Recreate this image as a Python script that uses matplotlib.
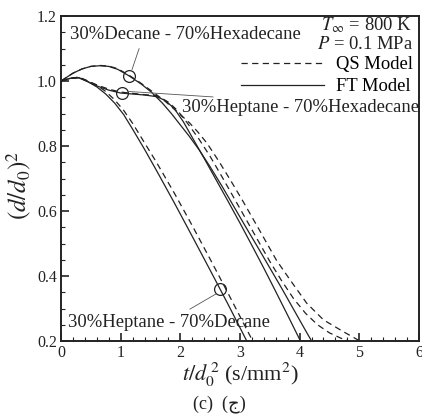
import numpy as np
import matplotlib.pyplot as plt
from matplotlib.lines import Line2D

plt.rcParams['font.family'] = ['Liberation Serif', 'DejaVu Sans']
plt.rcParams['mathtext.fontset'] = 'stix'

# 30%Heptane - 70%Decane
hd_ft_t = [0, 0.15, 0.3, 0.45, 0.6, 0.75, 0.9, 1.05, 1.2, 1.4, 1.6, 1.9, 2.2, 2.5, 2.8, 3.1, 3.3]
hd_ft_v = [1.0, 1.008, 1.01, 0.998, 0.982, 0.96, 0.932, 0.897, 0.852, 0.79, 0.725, 0.625, 0.522, 0.418, 0.313, 0.205, 0.135]
hd_qs_t = [0, 0.15, 0.3, 0.45, 0.6, 0.75, 0.9, 1.05, 1.2, 1.4, 1.6, 1.9, 2.2, 2.5, 2.8, 3.1, 3.3]
hd_qs_v = [1.0, 1.008, 1.012, 1.0, 0.987, 0.968, 0.942, 0.91, 0.87, 0.81, 0.75, 0.655, 0.555, 0.452, 0.347, 0.24, 0.17]

# 30%Heptane - 70%Hexadecane
hh_ft_t = [0, 0.15, 0.3, 0.45, 0.6, 0.8, 1.0, 1.2, 1.4, 1.6, 1.75, 1.9, 2.05, 2.22, 2.4, 2.6, 2.8, 3.0, 3.2, 3.4, 3.6, 3.8, 4.0, 4.2]
hh_ft_v = [1.0, 1.008, 1.01, 0.998, 0.985, 0.972, 0.963, 0.96, 0.957, 0.952, 0.94, 0.915, 0.875, 0.82, 0.762, 0.696, 0.63, 0.563, 0.494, 0.424, 0.352, 0.279, 0.205, 0.13]
hh_qs_t = [0, 0.15, 0.3, 0.45, 0.6, 0.8, 1.0, 1.2, 1.4, 1.6, 1.8, 1.95, 2.1, 2.3, 2.5, 2.7, 2.9, 3.1, 3.3, 3.5, 3.7, 3.9, 4.1, 4.3, 4.5, 4.7, 4.85, 5.0]
hh_qs_v = [1.0, 1.008, 1.012, 1.0, 0.988, 0.975, 0.966, 0.962, 0.958, 0.955, 0.935, 0.91, 0.875, 0.825, 0.768, 0.705, 0.64, 0.575, 0.51, 0.445, 0.385, 0.33, 0.285, 0.25, 0.225, 0.208, 0.198, 0.19]

# 30%Decane - 70%Hexadecane
dh_ft_t = [0, 0.1, 0.2, 0.35, 0.5, 0.65, 0.8, 0.95, 1.14, 1.35, 1.52, 1.7, 1.85, 2.0, 2.15, 2.32, 2.5, 2.7, 2.9, 3.1, 3.3, 3.5, 3.7, 3.9, 4.1, 4.2, 4.4]
dh_ft_v = [1.0, 1.012, 1.024, 1.037, 1.045, 1.047, 1.045, 1.036, 1.016, 0.99, 0.965, 0.932, 0.9, 0.865, 0.83, 0.787, 0.736, 0.676, 0.613, 0.55, 0.488, 0.425, 0.362, 0.297, 0.232, 0.2, 0.135]
dh_qs_t = [0, 0.1, 0.2, 0.35, 0.5, 0.65, 0.8, 0.95, 1.14, 1.35, 1.55, 1.75, 1.95, 2.15, 2.3, 2.45, 2.65, 2.85, 3.05, 3.33, 3.61, 3.84, 4.12, 4.4, 4.73, 5.01, 5.2]
dh_qs_v = [1.0, 1.012, 1.024, 1.037, 1.045, 1.048, 1.046, 1.038, 1.018, 0.992, 0.965, 0.937, 0.905, 0.872, 0.842, 0.808, 0.752, 0.692, 0.63, 0.54, 0.449, 0.388, 0.316, 0.265, 0.229, 0.2, 0.19]

# circle markers, labels and where their leader lines run
circle_t = [1.14, 1.03, 2.66]
circle_v = [1.016, 0.962, 0.36]
labels = ["30%Decane - 70%Hexadecane", "30%Heptane - 70%Hexadecane", "30%Heptane - 70%Decane"]
label_t = [0.15, 2.03, 0.12]
label_v = [1.142, 0.92, 0.258]
leader_from = [(1.19, 1.035), (1.12, 0.968), (2.6, 0.345)]
leader_to = [(1.31, 1.10), (2.55, 0.951), (2.16, 0.298)]

fig = plt.figure(figsize=(4.22, 4.15), dpi=100)
ax = fig.add_axes([0.1445, 0.1783, 0.8483, 0.7831])

ink = '#222222'
lw = 0.9
dash = (0, (5, 3.5))
for t, v in [(hd_ft_t, hd_ft_v), (hh_ft_t, hh_ft_v), (dh_ft_t, dh_ft_v)]:
    ax.plot(t, v, color=ink, lw=lw)
for t, v in [(hd_qs_t, hd_qs_v), (hh_qs_t, hh_qs_v), (dh_qs_t, dh_qs_v)]:
    ax.plot(t, v, color=ink, lw=lw, linestyle=dash)

ax.plot(circle_t, circle_v, 'o', ms=8.5, mfc='none', mec=ink, mew=0.9)

fs = 13.4
for i in range(3):
    ax.annotate('', xy=leader_from[i], xytext=leader_to[i],
                arrowprops=dict(arrowstyle='-', color='#555555', lw=0.6,
                                shrinkA=0, shrinkB=0))
    ax.text(label_t[i], label_v[i], labels[i], fontsize=fs, ha='left',
            va='center', color=ink)

ax.text(0.982, 0.972, r'$T_\infty$ = 800 K', transform=ax.transAxes, fontsize=fs,
        ha='right', va='center', color=ink)
ax.text(0.982, 0.911, r'$P$ = 0.1 MPa', transform=ax.transAxes, fontsize=fs,
        ha='right', va='center', color=ink)

handles = [Line2D([], [], color=ink, lw=lw, linestyle=dash),
           Line2D([], [], color=ink, lw=lw)]
ax.legend(handles, ['QS Model', 'FT Model'], loc='upper right',
          bbox_to_anchor=(0.982, 0.876), frameon=False, fontsize=fs,
          handlelength=4.5, handletextpad=0.6, labelspacing=0.25,
          borderpad=0, borderaxespad=0)

ax.set_xlim(0, 6)
ax.set_ylim(0.2, 1.2)
ax.set_xticks(np.arange(0, 7, 1))
ax.set_xticks(np.arange(0, 6.01, 0.2), minor=True)
ax.set_yticks(np.arange(0.2, 1.21, 0.2))
ax.set_yticks(np.arange(0.2, 1.21, 0.05), minor=True)
ax.set_yticklabels(['0.2', '0.4', '0.6', '0.8', '1.0', '1.2'])
ax.tick_params(which='both', direction='in', top=False, right=False,
               labelsize=11.5, colors=ink, pad=3)
ax.tick_params(which='major', length=6, width=1.2)
ax.tick_params(which='minor', length=3, width=0.8)
for s in ax.spines.values():
    s.set_linewidth(1.4)
    s.set_color(ink)

ax.set_xlabel(r'$t/d_0^{\,2}$ (s/mm$^2$)', fontsize=16, color=ink)
ax.xaxis.set_label_coords(0.5, -0.062)
ax.set_ylabel(r'$(d/d_0)^2$', fontsize=18, color=ink)
ax.yaxis.set_label_coords(-0.075, 0.48)

fig.text(0.52, 0.026, '(c)  (ج)', fontsize=13, ha='center', va='center', color=ink)

fig.savefig('out.png', dpi=100)
